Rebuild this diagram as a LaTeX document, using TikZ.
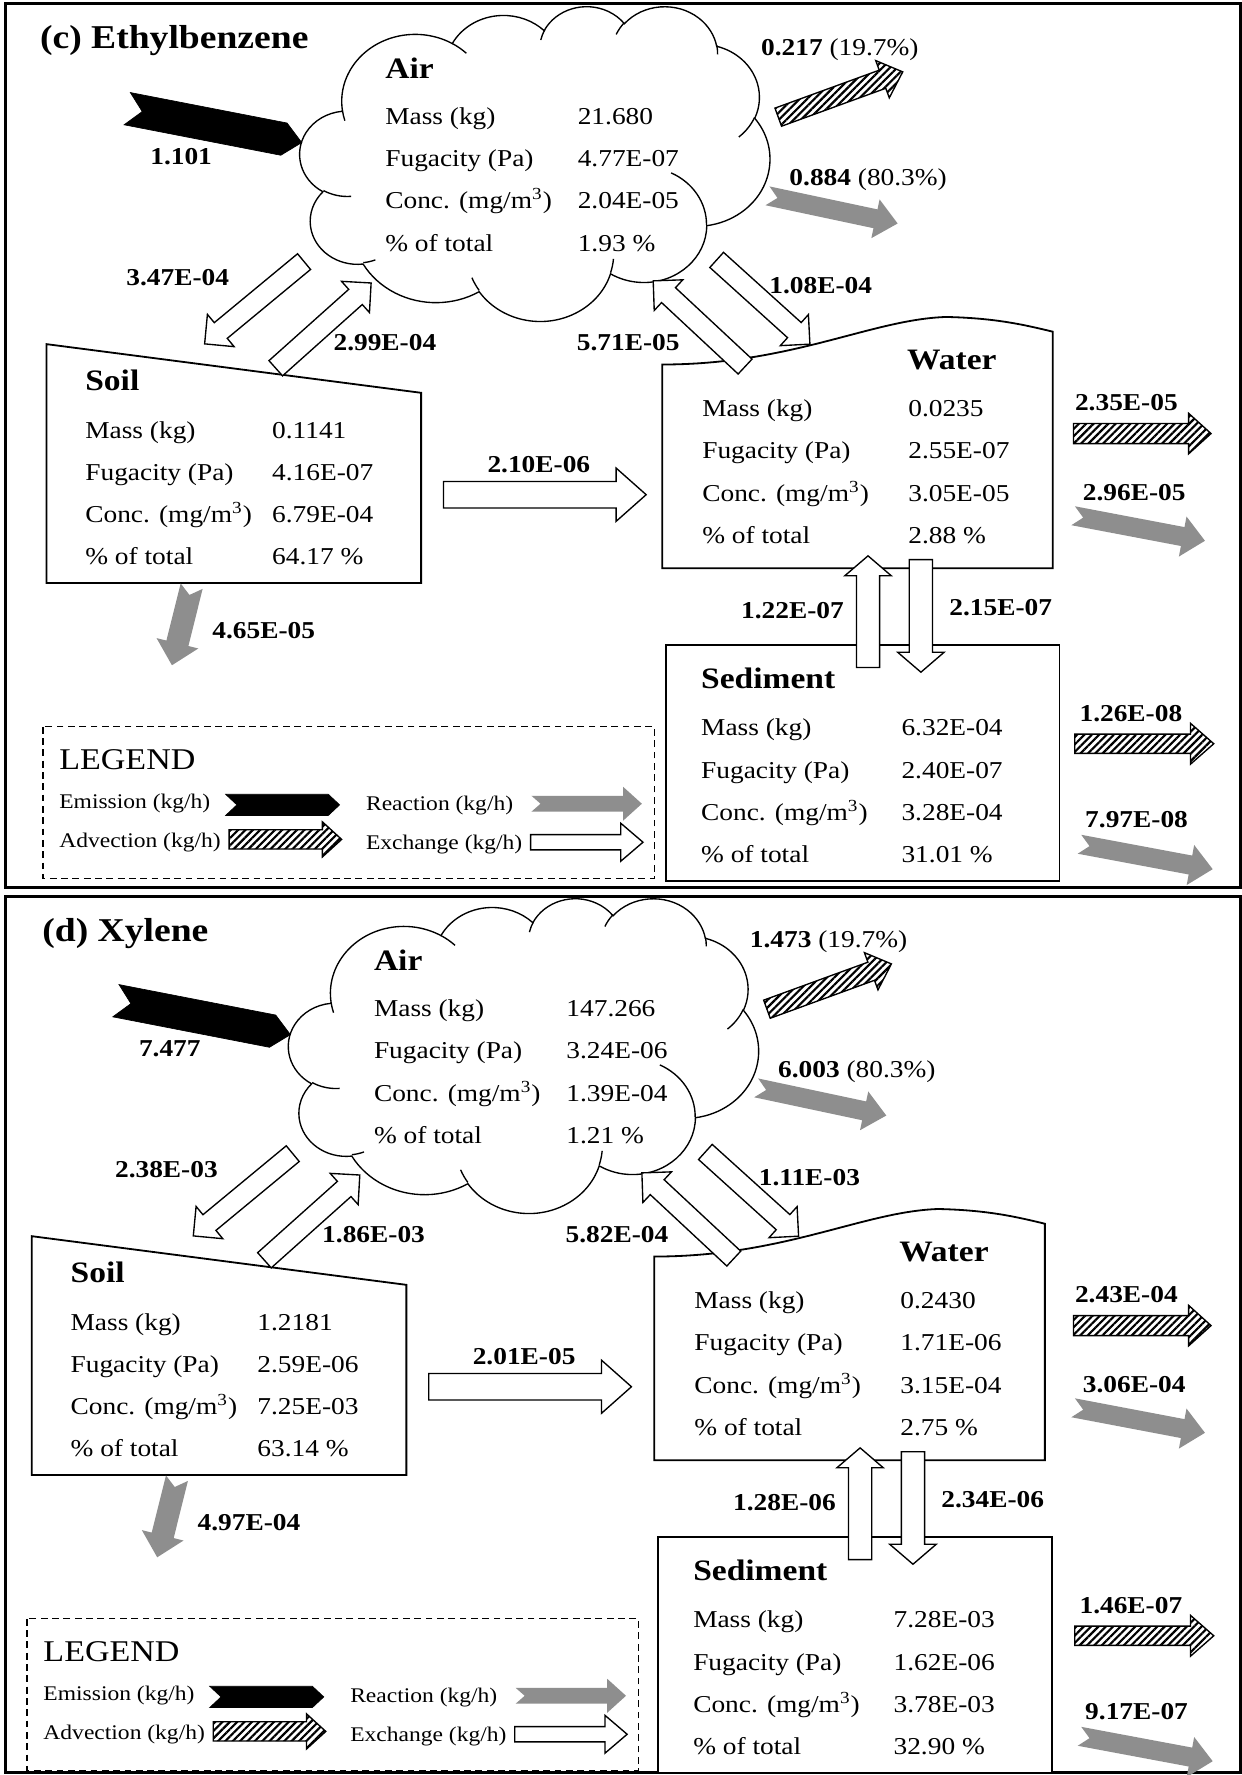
\documentclass[tikz,border=0pt]{standalone}
\usepackage{fontspec}
\setmainfont{Liberation Serif}[FakeStretch=1.13]
\usetikzlibrary{patterns.meta}
\definecolor{reactgray}{RGB}{142,142,142}

\tikzset{
  frame/.style={draw=black, line width=1.3pt},
  box/.style={draw=black, line width=0.8pt, fill=white},
  legbox/.style={draw=black, line width=0.6pt, dashed, dash pattern=on 3pt off 2pt},
  cloudline/.style={draw=black, line width=0.6pt},
  exch/.style={draw=black, line width=0.6pt, fill=white},
  adv/.style={preaction={fill=white}, pattern={Lines[angle=45,distance=2.3pt,line width=0.95pt]}, draw=black, line width=0.6pt},
  react/.style={fill=reactgray, draw=none},
  emis/.style={fill=black, draw=black, line width=0.3pt},
  txt/.style={font=\fontsize{10.7}{12}\selectfont, inner sep=0pt, anchor=base west},
  fluxw/.style={font=\fontsize{10.7}{12}\selectfont, inner sep=0pt, anchor=base west},
  flux/.style={font=\bfseries\fontsize{10.7}{12}\selectfont, inner sep=0pt, anchor=base},
  ctitle/.style={font=\bfseries\fontsize{13.1}{15}\selectfont, inner sep=0pt, anchor=base west},
  ptitle/.style={font=\bfseries\fontsize{14.7}{17}\selectfont, inner sep=0pt, anchor=base west},
  legtitle/.style={font=\fontsize{13.3}{15}\selectfont, inner sep=0pt, anchor=base west},
  legtext/.style={font=\fontsize{9.2}{11}\selectfont, inner sep=0pt, anchor=base west},
}

\newcommand\cloudarc[4]{arc[x radius=#1, y radius=#2, start angle={vang(#1,#2,#3)}, delta angle={vdel(#1,#2,#3,#4)}]}

% style, x, y (tail centre), angle (y down), length, shaft width, head width, head length, notch
\newcommand\barrow[9]{%
  \path[#1, shift={(#2,#3)}, rotate={-1*(#4)}]
    (0,{-0.5*(#6)}) -- ({#5-(#8)},{-0.5*(#6)}) -- ({#5-(#8)},{-0.5*(#7)}) -- (#5,0)
    -- ({#5-(#8)},{0.5*(#7)}) -- ({#5-(#8)},{0.5*(#6)}) -- (0,{0.5*(#6)}) -- (#9,0) -- cycle;}

% prefix, x labels, x values, y first baseline, row step, four values
\newcommand\comptable[9]{%
  \node[txt] (#1-l1) at (#2,#4) {Mass (kg)};
  \node[txt] (#1-v1) at (#3,#4) {#6};
  \node[txt] (#1-l2) at (#2,{#4+#5}) {Fugacity (Pa)};
  \node[txt] (#1-v2) at (#3,{#4+#5}) {#7};
  \node[txt] (#1-l3) at (#2,{#4+2*#5}) {Conc. (mg/m\textsuperscript{3})};
  \node[txt] (#1-v3) at (#3,{#4+2*#5}) {#8};
  \node[txt] (#1-l4) at (#2,{#4+3*#5}) {\% of total};
  \node[txt] (#1-v4) at (#3,{#4+3*#5}) {#9};}

\newcommand\drawpanel{%
  \draw[frame] (5,\qFtop) rectangle (1096,\qFbot);
  \node[ptitle] (\qid-title) at (\qTx,\qTy) {\qTitle};
  % cloud
  \begin{scope}[shift={(\qdxC,\qdy)}]
    \begin{scope}[shift={(265,5)}, x=0.480324pt, y=-0.321759pt]
      \path[cloudline, fill=white] (39.00,143.70)
        \cloudarc{67.53}{91.90}{-190.4875}{123.7805}
        \cloudarc{53.33}{72.67}{-144.1024}{89.9452}
        \cloudarc{43.65}{59.45}{-145.8079}{99.7230}
        \cloudarc{48.57}{65.95}{-130.9861}{117.2417}
        \cloudarc{53.33}{72.73}{-78.7089}{109.0269}
        \cloudarc{67.75}{92.20}{-46.2673}{130.2690}
        \cloudarc{57.85}{78.67}{0.6250}{114.0333}
        \cloudarc{67.52}{92.15}{22.4516}{115.1726}
        \cloudarc{77.20}{105.43}{66.2426}{75.7110}
        \cloudarc{43.60}{59.18}{-274.9421}{146.7356}
        \cloudarc{43.45}{59.45}{-246.8285}{152.5189}
        -- cycle;
      \path[cloudline]
        (46.93,261.77) \cloudarc{43.45}{59.45}{86.742}{26.4295}
        (69.28,348.99) \cloudarc{43.60}{59.18}{73.6105}{11.4475}
        (164.78,390.90) \cloudarc{67.52}{92.15}{137.6242}{14.0811}
        (288.27,347.51) \cloudarc{67.52}{92.15}{6.4533}{15.9984}
        (341.29,229.54) \cloudarc{57.85}{78.67}{-70.2924}{70.9174}
        (417.98,153.54) \cloudarc{53.33}{72.73}{30.3180}{27.7515}
        (383.24,54.26) \cloudarc{48.57}{65.95}{-13.7443}{14.8512}
        (290.78,39.52) \cloudarc{48.57}{65.95}{-149.1815}{18.1872}
        (221.41,47.20) \cloudarc{43.65}{59.45}{-163.4943}{17.6973}
        (140.00,51.92) \cloudarc{67.53}{91.90}{-66.7070}{12.3194}
        (41.27,157.89) arc[x radius=67.53, y radius=91.90, start angle=163.2, delta angle=9.05];
    \end{scope}
  \end{scope}
  % soil box
  \begin{scope}[shift={(\qdxS,\qdy)}]
    \path[box] (41,304) -- (372,347) -- (372,515) -- (41,515) -- cycle;
  \end{scope}
  % water and sediment boxes
  \begin{scope}[shift={(\qdxW,\qdy)}]
    \path[box] (585,502) -- (585,322) .. controls (700,322) and (770,282) .. (836,280)
       .. controls (880,281) and (905,287) .. (930,293) -- (930,502) -- cycle;
    \path[box] (588,570) rectangle (936,778);
  \end{scope}
  % legend
  \begin{scope}[shift={(\qdxL,\qdy)}]
    \draw[legbox] (38,642) rectangle (578,776);
    \node[legtitle] (\qid-legend) at (52,680) {LEGEND};
    \node[legtext] (\qid-lemi) at (52,714) {Emission (kg/h)};
    \node[legtext] (\qid-ladv) at (52,748.5) {Advection (kg/h)};
    \node[legtext] (\qid-lrea) at (323,716) {Reaction (kg/h)};
    \node[legtext] (\qid-lexc) at (323,750) {Exchange (kg/h)};
    \barrow{emis}{199.3}{711}{0}{100.7}{18.7}{18.7}{10}{10}
    \barrow{adv}{202.4}{741.5}{0}{99.4}{17}{31}{17}{0}
    \barrow{react}{469.5}{710}{0}{97.5}{14}{30}{16.6}{8}
    \barrow{exch}{468.7}{744}{0}{99.3}{13.5}{33.5}{19.6}{0}
  \end{scope}
  % air side
  \begin{scope}[shift={(\qdxC,\qdy)}]
    \node[ctitle] (\qid-air) at (340,69) {Air};
    \comptable{\qid-air}{340}{510}{110}{37.3}{\vAa}{\vAb}{\vAc}{\vAd}
    \barrow{emis}{112.4}{96}{11}{157}{29}{29}{16}{13.5}
    \node[flux] (\qid-fem) at (160,145) {\fEm};
    \barrow{adv}{687.5}{103.5}{-20}{117}{17}{35}{19}{0}
    \node[fluxw] (\qid-fadv) at (672,49) {\textbf{\fAdvA} (\fAdvAP)};
    \barrow{react}{678}{173}{12}{117.5}{17}{35}{20}{9}
    \node[fluxw] (\qid-frea) at (697,164) {\textbf{\fReaA} (\fReaAP)};
    \barrow{exch}{268.6}{231.1}{140.4}{114}{18}{37}{18.5}{0}
    \node[flux] (\qid-fas) at (157,252) {\fAS};
    \barrow{exch}{243.6}{325.3}{-41.8}{113}{18}{37}{18.5}{0}
    \node[flux] (\qid-fsa) at (340,310) {\fSA};
    \barrow{exch}{658.2}{323.8}{-137}{111}{18}{37}{18.5}{0}
    \node[flux] (\qid-fwa) at (555,310) {\fWA};
    \barrow{exch}{633.1}{229.6}{42.1}{111}{18}{37}{18.5}{0}
    \node[flux] (\qid-faw) at (725,259) {\fAW};
  \end{scope}
  % soil side
  \begin{scope}[shift={(\qdxS,\qdy)}]
    \node[ctitle] (\qid-soil) at (75,345) {Soil};
    \comptable{\qid-soil}{75}{240}{387}{37.1}{\vSa}{\vSb}{\vSc}{\vSd}
    \barrow{react}{169.3}{517.8}{104}{72}{20}{38}{20}{8}
    \node[flux] (\qid-fsr) at (233,564) {\fSR};
    \barrow{exch}{391.8}{437}{0}{179}{23.4}{47}{26.5}{0}
    \node[flux] (\qid-fsw) at (476,417) {\fSW};
  \end{scope}
  % water and sediment side
  \begin{scope}[shift={(\qdxW,\qdy)}]
    \node[ctitle] (\qid-water) at (801,326) {Water};
    \comptable{\qid-water}{620}{802}{368}{37.3}{\vWa}{\vWb}{\vWc}{\vWd}
    \node[ctitle] (\qid-sed) at (619,608) {Sediment};
    \comptable{\qid-sed}{619}{796}{650}{37.3}{\vDa}{\vDb}{\vDc}{\vDd}
    \barrow{exch}{766.8}{589.7}{-90}{98.7}{20.5}{41}{17.6}{0}
    \barrow{exch}{813.5}{494.4}{90}{99.4}{20.5}{41}{17.6}{0}
    \node[flux] (\qid-fdw) at (700,546) {\fDW};
    \node[flux] (\qid-fwd) at (884,544) {\fWD};
  \end{scope}
  % right-hand losses
  \begin{scope}[shift={(\qdxR,\qdy)}]
    \barrow{adv}{948.3}{383}{0}{121.5}{17.7}{35.8}{19.8}{0}
    \node[flux] (\qid-fwadv) at (995,363) {\fWAdv};
    \barrow{react}{948}{455.6}{10.75}{118.5}{17}{36}{20}{9}
    \node[flux] (\qid-fwrea) at (1002,442) {\fWRea};
    \barrow{adv}{949.4}{657}{0}{122.8}{17}{36}{20.5}{0}
    \node[flux] (\qid-fdadv) at (999,637) {\fDAdv};
    \barrow{react}{953.6}{745.8}{10.6}{119.7}{17}{36}{20}{9}
    \node[flux] (\qid-fdrea) at (1004,731) {\fDRea};
  \end{scope}
}

\begin{document}
\begin{tikzpicture}[x=0.5pt, y=-0.5pt,
  declare function={vang(\rx,\ry,\ang)=atan2(\rx*sin(\ang),\ry*cos(\ang));
    vdel(\rx,\ry,\ang,\swp)=mod(atan2(\rx*sin(\ang+\swp),\ry*cos(\ang+\swp))-atan2(\rx*sin(\ang),\ry*cos(\ang))+720,360);}]
\useasboundingbox (0,0) rectangle (1097,1568);
\fill[white] (0,0) rectangle (1097,1568);

% ---------- panel (c) ----------
\def\qid{c}\def\qTitle{(c) Ethylbenzene}\def\qTx{35}\def\qTy{43}
\def\qFtop{3}\def\qFbot{784}
\def\qdy{0}\def\qdxC{0}\def\qdxS{0}\def\qdxW{0}\def\qdxR{0}\def\qdxL{0}
\def\vAa{21.680}\def\vAb{4.77E-07}\def\vAc{2.04E-05}\def\vAd{1.93 \%}
\def\vSa{0.1141}\def\vSb{4.16E-07}\def\vSc{6.79E-04}\def\vSd{64.17 \%}
\def\vWa{0.0235}\def\vWb{2.55E-07}\def\vWc{3.05E-05}\def\vWd{2.88 \%}
\def\vDa{6.32E-04}\def\vDb{2.40E-07}\def\vDc{3.28E-04}\def\vDd{31.01 \%}
\def\fEm{1.101}\def\fAdvA{0.217}\def\fAdvAP{19.7\%}\def\fReaA{0.884}\def\fReaAP{80.3\%}
\def\fAS{3.47E-04}\def\fSA{2.99E-04}\def\fWA{5.71E-05}\def\fAW{1.08E-04}
\def\fSW{2.10E-06}\def\fSR{4.65E-05}\def\fDW{1.22E-07}\def\fWD{2.15E-07}
\def\fWAdv{2.35E-05}\def\fWRea{2.96E-05}\def\fDAdv{1.26E-08}\def\fDRea{7.97E-08}
\drawpanel

% ---------- panel (d) ----------
\def\qid{d}\def\qTitle{(d) Xylene}\def\qTx{37}\def\qTy{832}
\def\qFtop{792}\def\qFbot{1566}
\def\qdy{788}\def\qdxC{-10}\def\qdxS{-13}\def\qdxW{-7}\def\qdxR{0}\def\qdxL{-14}
\def\vAa{147.266}\def\vAb{3.24E-06}\def\vAc{1.39E-04}\def\vAd{1.21 \%}
\def\vSa{1.2181}\def\vSb{2.59E-06}\def\vSc{7.25E-03}\def\vSd{63.14 \%}
\def\vWa{0.2430}\def\vWb{1.71E-06}\def\vWc{3.15E-04}\def\vWd{2.75 \%}
\def\vDa{7.28E-03}\def\vDb{1.62E-06}\def\vDc{3.78E-03}\def\vDd{32.90 \%}
\def\fEm{7.477}\def\fAdvA{1.473}\def\fAdvAP{19.7\%}\def\fReaA{6.003}\def\fReaAP{80.3\%}
\def\fAS{2.38E-03}\def\fSA{1.86E-03}\def\fWA{5.82E-04}\def\fAW{1.11E-03}
\def\fSW{2.01E-05}\def\fSR{4.97E-04}\def\fDW{1.28E-06}\def\fWD{2.34E-06}
\def\fWAdv{2.43E-04}\def\fWRea{3.06E-04}\def\fDAdv{1.46E-07}\def\fDRea{9.17E-07}
\drawpanel
\end{tikzpicture}
\end{document}
